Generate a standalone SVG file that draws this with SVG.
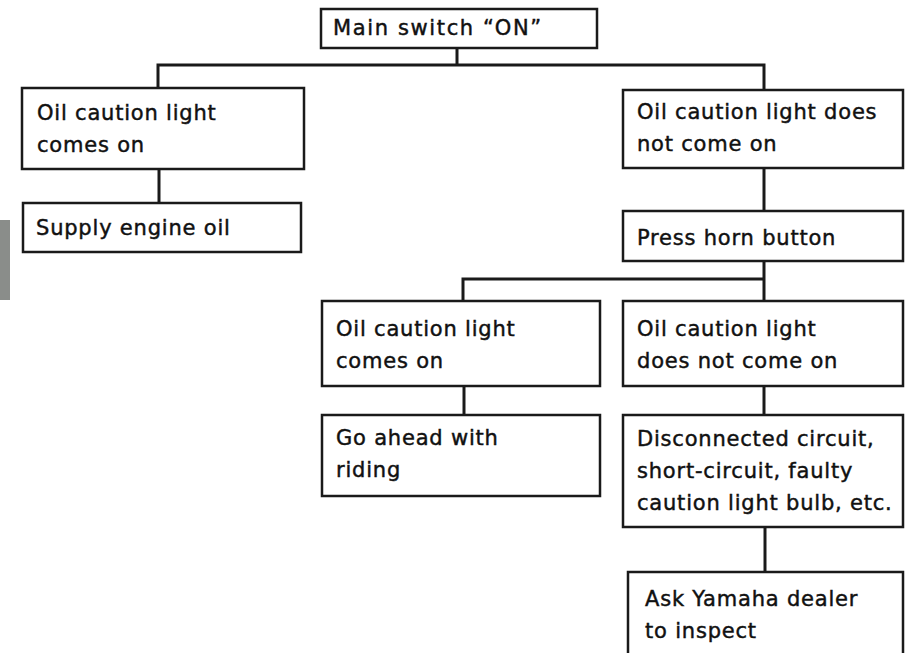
<svg xmlns="http://www.w3.org/2000/svg" width="908" height="653" viewBox="0 0 908 653">
<style>
.box{fill:#fff;stroke:#1a1a1a;stroke-width:2.5}
.t{font-family:"DejaVu Sans","Liberation Sans",sans-serif;font-size:21px;fill:#111;stroke:#111;stroke-width:0.45;letter-spacing:0.8px}
.c{fill:none;stroke:#1a1a1a;stroke-width:3}
</style>
<rect width="908" height="653" fill="#fff"/>
<rect x="0" y="220" width="10" height="80" fill="#8a8d8a"/>
<g id="connectors">
<path class="c" d="M457 48V65M158 88V65H764V90"/>
<path class="c" d="M159 169V203"/>
<path class="c" d="M764 168V211"/>
<path class="c" d="M764 261V279M463 301V279H764V301"/>
<path class="c" d="M464 386V415"/>
<path class="c" d="M764 386V415"/>
<path class="c" d="M765 527V572"/>
</g>
<g id="n-main"><rect class="box" x="321" y="9" width="276" height="39"/><text class="t" x="333" y="35" textLength="209" lengthAdjust="spacing">Main switch “ON”</text></g>
<g id="n-on1"><rect class="box" x="22" y="88" width="282" height="81"/><text class="t" x="37" y="120">Oil caution light</text><text class="t" x="37" y="152">comes on</text></g>
<g id="n-supply"><rect class="box" x="23" y="203" width="278" height="49"/><text class="t" x="36" y="235">Supply engine oil</text></g>
<g id="n-off1"><rect class="box" x="623" y="90" width="280" height="78"/><text class="t" x="637" y="119">Oil caution light does</text><text class="t" x="637" y="151">not come on</text></g>
<g id="n-horn"><rect class="box" x="623" y="211" width="280" height="50"/><text class="t" x="637" y="245">Press horn button</text></g>
<g id="n-on2"><rect class="box" x="322" y="301" width="278" height="85"/><text class="t" x="336" y="336">Oil caution light</text><text class="t" x="336" y="368">comes on</text></g>
<g id="n-off2"><rect class="box" x="623" y="301" width="280" height="85"/><text class="t" x="637" y="336">Oil caution light</text><text class="t" x="637" y="368">does not come on</text></g>
<g id="n-ride"><rect class="box" x="322" y="415" width="278" height="81"/><text class="t" x="336" y="445">Go ahead with</text><text class="t" x="336" y="477">riding</text></g>
<g id="n-fault"><rect class="box" x="623" y="415" width="280" height="112"/><text class="t" x="637" y="446">Disconnected circuit,</text><text class="t" x="637" y="478">short-circuit, faulty</text><text class="t" x="637" y="510">caution light bulb, etc.</text></g>
<g id="n-dealer"><rect class="box" x="628" y="572" width="275" height="90"/><text class="t" x="645" y="606">Ask Yamaha dealer</text><text class="t" x="645" y="638">to inspect</text></g>
</svg>
